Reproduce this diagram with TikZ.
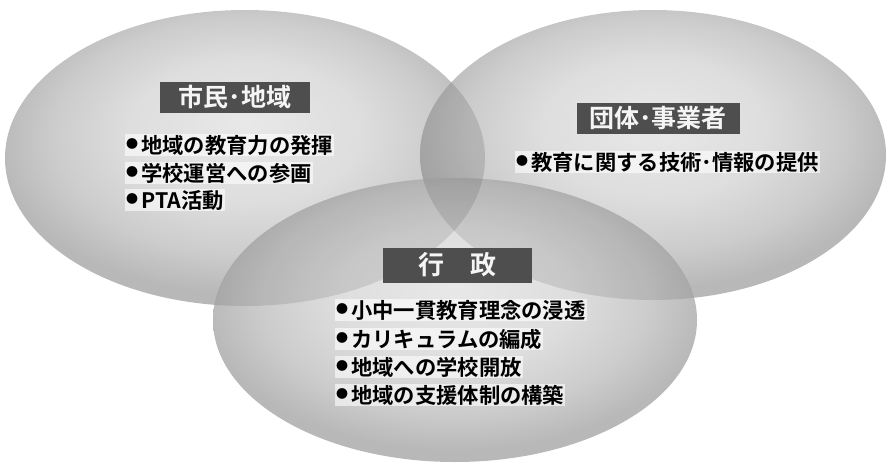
\documentclass[tikz,border=0pt]{standalone}
\usepackage{fontspec}
\newfontfamily\jp{Noto Sans CJK JP}[BoldFont={Noto Sans CJK JP Bold}]
\definecolor{labgray}{HTML}{4E4E4E}
\pgfdeclareradialshading{ballshade}{\pgfpoint{0bp}{6bp}}{color(0bp)=(gray!18); color(12bp)=(gray!26); color(20bp)=(gray!40); color(26bp)=(gray!56); color(50bp)=(gray!56)}
\newcommand\mybul{\raisebox{0.22em}{\fontsize{12}{12}\selectfont ●}\hspace{3pt}}
\begin{document}
\begin{tikzpicture}[x=1pt,y=-1pt,
  ell/.style={shading=ballshade},
  lab/.style={fill=labgray, text=white!92!gray, font=\jp\bfseries\fontsize{25}{25}\selectfont, inner sep=2pt, minimum height=31pt},
  itemtxt/.style={font=\jp\bfseries\fontsize{21.3}{21.3}\selectfont, fill=white, fill opacity=0.6, text opacity=1, inner xsep=1pt, inner ysep=0.5pt, anchor=west}]
\useasboundingbox (0,0) rectangle (888,466);
\def\ellL{(245,158) ellipse [x radius=240pt, y radius=148pt]}
\def\ellR{(653,155) ellipse [x radius=233pt, y radius=145pt]}
\def\ellB{(455,320) ellipse [x radius=242pt, y radius=142pt]}
% circles
\shade[ell] \ellL;
\shade[ell] \ellR;
\begin{scope}
  \clip \ellL;
  \fill[black, opacity=0.12] \ellR;
\end{scope}
\shade[ell] \ellB;
\begin{scope}
  \clip \ellB;
  \fill[black, opacity=0.10] \ellL;
  \fill[black, opacity=0.10] \ellR;
\end{scope}
% labels
\node[lab, minimum width=150pt] (l1) at (235,97) {市民･地域};
\node[lab, minimum width=163pt] (l2) at (658,118) {団体･事業者};
\node[lab, minimum width=149pt, minimum height=35pt, font=\jp\bfseries\fontsize{26}{26}\selectfont] (l3) at (457,265) {行\hspace{1em}政};
% items
\node[itemtxt] (a1) at (125,145) {\mybul 地域の教育力の発揮};
\node[itemtxt] (a2) at (125,173) {\mybul 学校運営への参画};
\node[itemtxt] (a3) at (125,200) {\mybul PTA活動};
\node[itemtxt] (b1) at (515,162) {\mybul 教育に関する技術･情報の提供};
\node[itemtxt] (c1) at (335,310) {\mybul 小中一貫教育理念の浸透};
\node[itemtxt] (c2) at (335,339) {\mybul カリキュラムの編成};
\node[itemtxt] (c3) at (335,367) {\mybul 地域への学校開放};
\node[itemtxt] (c4) at (335,395) {\mybul 地域の支援体制の構築};
\end{tikzpicture}
\end{document}
